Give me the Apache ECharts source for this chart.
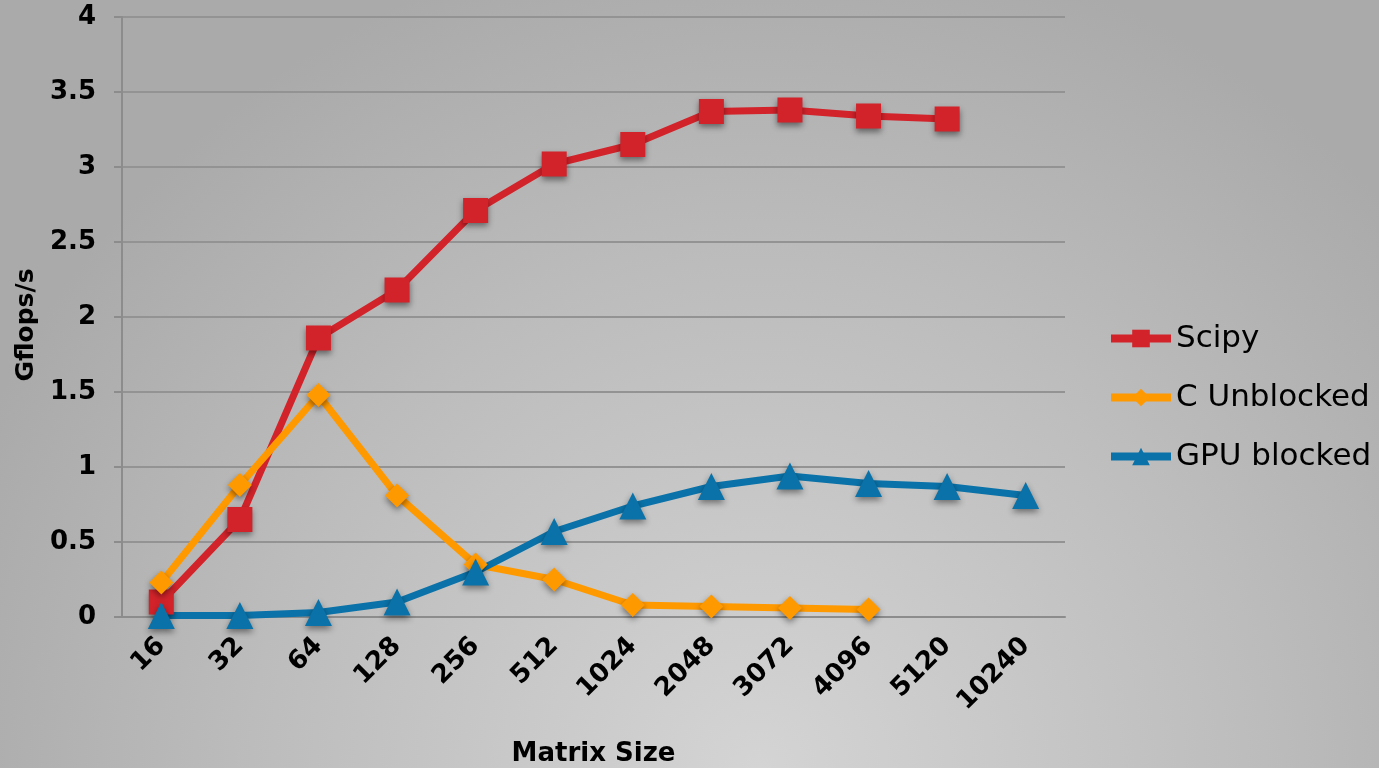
<!DOCTYPE html>
<html>
<head>
<meta charset="utf-8">
<script src="https://cdn.jsdelivr.net/npm/echarts@6/dist/echarts.min.js"></script>
<style>
  html, body { margin: 0; padding: 0; }
  #chart { width: 1379px; height: 768px; }
</style>
</head>
<body>
<div id="chart"></div>
<script>
// 数据
var sizes = ['16', '32', '64', '128', '256', '512', '1024', '2048', '3072', '4096', '5120', '10240'];
var scipy = [0.10, 0.65, 1.86, 2.18, 2.71, 3.02, 3.15, 3.37, 3.38, 3.34, 3.32, null];
var cUnblocked = [0.23, 0.88, 1.48, 0.81, 0.35, 0.25, 0.08, 0.07, 0.06, 0.05, null, null];
var gpuBlocked = [0.01, 0.01, 0.03, 0.10, 0.30, 0.57, 0.74, 0.87, 0.94, 0.89, 0.87, 0.81];

var chart = echarts.init(document.getElementById('chart'));

function lineSeries(name, data, color, symbol, size) {
    return {
        name: name,
        type: 'line',
        data: data,
        symbol: symbol,
        symbolSize: size,
        showAllSymbol: true,
        lineStyle: { color: color, width: 7 },
        itemStyle: {
            color: color,
            shadowColor: 'rgba(0,0,0,0.45)',
            shadowBlur: 6,
            shadowOffsetY: 3
        },
        emphasis: { disabled: true }
    };
}

chart.setOption({
    animation: false,
    backgroundColor: {
        type: 'radial', x: 0.55, y: 1.0, r: 1.1,
        colorStops: [
            { offset: 0, color: '#d4d4d4' },
            { offset: 0.6, color: '#bcbcbc' },
            { offset: 1, color: '#aaaaaa' }
        ]
    },
    textStyle: { fontFamily: 'DejaVu Sans' },
    grid: { left: 122, right: 314, top: 17, bottom: 151, outerBoundsMode: 'none', containLabel: false },
    legend: {
        orient: 'vertical',
        left: 1102,
        top: 318,
        itemWidth: 60,
        itemHeight: 22,
        itemGap: 28,
        lineStyle: { width: 8 },
        textStyle: { fontSize: 31, color: '#000', fontFamily: 'DejaVu Sans' },
        data: ['Scipy', 'C Unblocked', 'GPU blocked']
    },
    xAxis: {
        type: 'category',
        data: sizes,
        boundaryGap: true,
        name: 'Matrix Size',
        nameLocation: 'middle',
        nameGap: 124,
        nameTextStyle: { fontSize: 26, fontWeight: 'bold', color: '#000' },
        axisLine: { lineStyle: { color: '#8c8c8c', width: 2 } },
        axisTick: { alignWithLabel: false, length: 8, lineStyle: { color: '#8c8c8c', width: 2 } },
        axisLabel: { rotate: 45, fontSize: 26, fontWeight: 'bold', color: '#000', margin: 25, interval: 0 },
        splitLine: { show: false }
    },
    yAxis: {
        type: 'value',
        min: 0,
        max: 4,
        interval: 0.5,
        name: 'Gflops/s',
        nameLocation: 'middle',
        nameGap: 82,
        nameTextStyle: { fontSize: 25, fontWeight: 'bold', color: '#000', padding: [0, 16, 0, 0] },
        axisLine: { show: true, lineStyle: { color: '#8c8c8c', width: 2 } },
        axisTick: { show: true, length: 8, lineStyle: { color: '#8c8c8c', width: 2 } },
        axisLabel: { fontSize: 26, fontWeight: 'bold', color: '#000', margin: 26 },
        splitLine: { lineStyle: { color: '#939393', width: 2 } }
    },
    series: [
        lineSeries('Scipy', scipy, '#d2232a', 'rect', 25),
        lineSeries('C Unblocked', cUnblocked, '#ff9900', 'diamond', 24),
        lineSeries('GPU blocked', gpuBlocked, '#0a72a8', 'triangle', 27)
    ]
});
</script>
</body>
</html>
